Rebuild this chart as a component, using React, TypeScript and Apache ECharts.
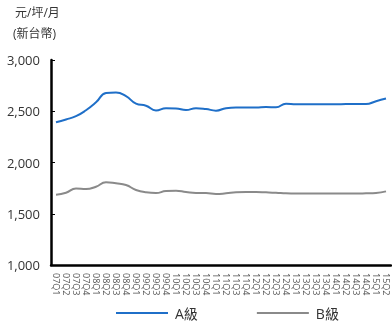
import React, { useEffect, useRef } from "react";
import * as echarts from "echarts";

const categories = [
  "07Q1","07Q2","07Q3","07Q4","08Q1","08Q2","08Q3","08Q4",
  "09Q1","09Q2","09Q3","09Q4","10Q1","10Q2","10Q3","10Q4",
  "11Q1","11Q2","11Q3","11Q4","12Q1","12Q2","12Q3","12Q4",
  "13Q1","13Q2","13Q3","13Q4","14Q1","14Q2","14Q3","14Q4",
  "15Q1","15Q2",
];
const gradeA = [
  2392, 2420, 2452, 2510, 2587, 2678, 2684, 2648,
  2574, 2554, 2508, 2530, 2528, 2512, 2530, 2522,
  2506, 2530, 2536, 2536, 2536, 2542, 2538, 2574,
  2568, 2568, 2568, 2568, 2568, 2570, 2570, 2570,
  2598, 2624,
];
const gradeB = [
  1686, 1705, 1746, 1741, 1764, 1808, 1797, 1780,
  1732, 1709, 1702, 1722, 1725, 1712, 1702, 1702,
  1693, 1699, 1709, 1712, 1712, 1709, 1705, 1699,
  1697, 1697, 1697, 1697, 1697, 1697, 1697, 1699,
  1702, 1718,
];
const seriesNames = ["A級", "B級"];
const unitLines = ["元/坪/月", "(新台幣)"];

export default function App() {
  const ref = useRef<HTMLDivElement>(null);
  useEffect(() => {
    if (!ref.current) return;
    const chart = echarts.init(ref.current, null, { renderer: "svg" });
    const font = "'Open Sans', 'Noto Sans CJK TC', sans-serif";
    chart.setOption({
      animation: false,
      textStyle: { fontFamily: font },
      graphic: [
        { type: "text", left: 15, top: 6, style: { text: unitLines[0], fontSize: 12, fill: "#333", fontFamily: font } },
        { type: "text", left: 13, top: 27, style: { text: unitLines[1], fontSize: 12, fill: "#333", fontFamily: font } },
      ],
      legend: {
        bottom: 2,
        left: 111,
        itemWidth: 52,
        itemHeight: 2,
        itemGap: 59,
        icon: "rect",
        textStyle: { fontSize: 14, color: "#333", fontFamily: font, padding: [0, 0, 0, 2] },
        data: seriesNames,
      },
      grid: { left: 51, right: 1, top: 60, bottom: 62, containLabel: false },
      xAxis: {
        type: "category",
        data: categories,
        boundaryGap: true,
        axisLine: { lineStyle: { color: "#000", width: 2.5 } },
        axisTick: { inside: true, length: 4, lineStyle: { color: "#000" } },
        axisLabel: { rotate: -90, fontSize: 9, color: "#555", margin: 8, interval: 0, fontFamily: font },
      },
      yAxis: {
        type: "value",
        min: 1000,
        max: 3000,
        interval: 500,
        splitLine: { show: false },
        axisLine: { show: true, lineStyle: { color: "#000", width: 2.5 } },
        axisTick: { show: true, inside: true, length: 4, lineStyle: { color: "#000" } },
        axisLabel: {
          fontSize: 13,
          color: "#333",
          margin: 11,
          fontFamily: font,
          formatter: (v: number) => v.toLocaleString("en-US"),
        },
      },
      series: [
        {
          name: seriesNames[0],
          type: "line",
          data: gradeA,
          smooth: 0.5,
          symbol: "none",
          lineStyle: { color: "#1f6fc8", width: 2 },
          itemStyle: { color: "#1f6fc8" },
        },
        {
          name: seriesNames[1],
          type: "line",
          data: gradeB,
          smooth: 0.5,
          symbol: "none",
          lineStyle: { color: "#8a8a8a", width: 2 },
          itemStyle: { color: "#8a8a8a" },
        },
      ],
    });
    return () => chart.dispose();
  }, []);
  return (
    <div
      ref={ref}
      style={{ position: "fixed", left: 0, top: 0, width: 392, height: 327 }}
    />
  );
}
